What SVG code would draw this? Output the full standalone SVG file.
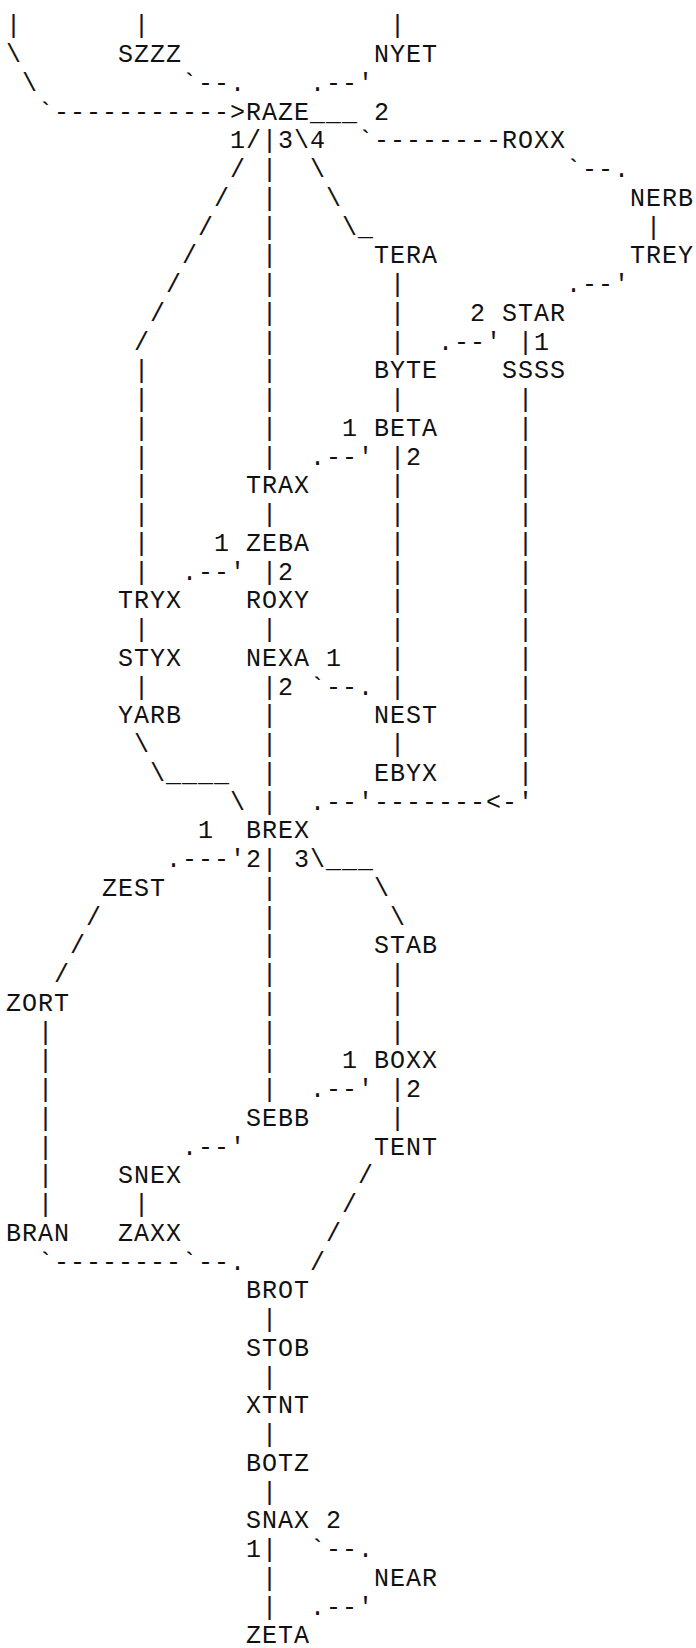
<svg xmlns="http://www.w3.org/2000/svg" width="696" height="1648" viewBox="0 0 696 1648">
<style>
text{font-family:"Liberation Mono","DejaVu Sans Mono",monospace;font-size:25px;letter-spacing:1px;fill:#111;white-space:pre}
</style>
<rect width="696" height="1648" fill="#fff"/>
<g id="connectors">
<text x="6" y="33.25">|</text><text x="134" y="33.25">|</text><text x="390" y="33.25">|</text>
<text x="6" y="62">\</text>
<text x="22" y="90.75">\</text><text x="182" y="90.75">`--.</text><text x="310" y="90.75">.--'</text>
<text x="38" y="119.5">`-----------&gt;</text><text x="310" y="119.5">___</text><text x="374" y="119.5">2</text>
<text x="230" y="148.25">1/|3\4</text><text x="358" y="148.25">`--------</text>
<text x="230" y="177">/</text><text x="262" y="177">|</text><text x="310" y="177">\</text><text x="566" y="177">`--.</text>
<text x="214" y="205.75">/</text><text x="262" y="205.75">|</text><text x="326" y="205.75">\</text>
<text x="198" y="234.5">/</text><text x="262" y="234.5">|</text><text x="342" y="234.5">\_</text><text x="646" y="234.5">|</text>
<text x="182" y="263.25">/</text><text x="262" y="263.25">|</text>
<text x="166" y="292">/</text><text x="262" y="292">|</text><text x="390" y="292">|</text><text x="566" y="292">.--'</text>
<text x="150" y="320.75">/</text><text x="262" y="320.75">|</text><text x="390" y="320.75">|</text><text x="470" y="320.75">2</text>
<text x="134" y="349.5">/</text><text x="262" y="349.5">|</text><text x="390" y="349.5">|</text><text x="438" y="349.5">.--'</text><text x="518" y="349.5">|1</text>
<text x="134" y="378.25">|</text><text x="262" y="378.25">|</text>
<text x="134" y="407">|</text><text x="262" y="407">|</text><text x="390" y="407">|</text><text x="518" y="407">|</text>
<text x="134" y="435.75">|</text><text x="262" y="435.75">|</text><text x="342" y="435.75">1</text><text x="518" y="435.75">|</text>
<text x="134" y="464.5">|</text><text x="262" y="464.5">|</text><text x="310" y="464.5">.--'</text><text x="390" y="464.5">|2</text><text x="518" y="464.5">|</text>
<text x="134" y="493.25">|</text><text x="390" y="493.25">|</text><text x="518" y="493.25">|</text>
<text x="134" y="522">|</text><text x="262" y="522">|</text><text x="390" y="522">|</text><text x="518" y="522">|</text>
<text x="134" y="550.75">|</text><text x="214" y="550.75">1</text><text x="390" y="550.75">|</text><text x="518" y="550.75">|</text>
<text x="134" y="579.5">|</text><text x="182" y="579.5">.--'</text><text x="262" y="579.5">|2</text><text x="390" y="579.5">|</text><text x="518" y="579.5">|</text>
<text x="390" y="608.25">|</text><text x="518" y="608.25">|</text>
<text x="134" y="637">|</text><text x="262" y="637">|</text><text x="390" y="637">|</text><text x="518" y="637">|</text>
<text x="326" y="665.75">1</text><text x="390" y="665.75">|</text><text x="518" y="665.75">|</text>
<text x="134" y="694.5">|</text><text x="262" y="694.5">|2</text><text x="310" y="694.5">`--.</text><text x="390" y="694.5">|</text><text x="518" y="694.5">|</text>
<text x="262" y="723.25">|</text><text x="518" y="723.25">|</text>
<text x="134" y="752">\</text><text x="262" y="752">|</text><text x="390" y="752">|</text><text x="518" y="752">|</text>
<text x="150" y="780.75">\____</text><text x="262" y="780.75">|</text><text x="518" y="780.75">|</text>
<text x="230" y="809.5">\</text><text x="262" y="809.5">|</text><text x="310" y="809.5">.--'-------&lt;-'</text>
<text x="198" y="838.25">1</text>
<text x="166" y="867">.---'2|</text><text x="294" y="867">3\___</text>
<text x="262" y="895.75">|</text><text x="374" y="895.75">\</text>
<text x="86" y="924.5">/</text><text x="262" y="924.5">|</text><text x="390" y="924.5">\</text>
<text x="70" y="953.25">/</text><text x="262" y="953.25">|</text>
<text x="54" y="982">/</text><text x="262" y="982">|</text><text x="390" y="982">|</text>
<text x="262" y="1010.75">|</text><text x="390" y="1010.75">|</text>
<text x="38" y="1039.5">|</text><text x="262" y="1039.5">|</text><text x="390" y="1039.5">|</text>
<text x="38" y="1068.25">|</text><text x="262" y="1068.25">|</text><text x="342" y="1068.25">1</text>
<text x="38" y="1097">|</text><text x="262" y="1097">|</text><text x="310" y="1097">.--'</text><text x="390" y="1097">|2</text>
<text x="38" y="1125.75">|</text><text x="390" y="1125.75">|</text>
<text x="38" y="1154.5">|</text><text x="182" y="1154.5">.--'</text>
<text x="38" y="1183.25">|</text><text x="358" y="1183.25">/</text>
<text x="38" y="1212">|</text><text x="134" y="1212">|</text><text x="342" y="1212">/</text>
<text x="326" y="1240.75">/</text>
<text x="38" y="1269.5">`--------`--.</text><text x="310" y="1269.5">/</text>
<text x="262" y="1327">|</text>
<text x="262" y="1384.5">|</text>
<text x="262" y="1442">|</text>
<text x="262" y="1499.5">|</text>
<text x="326" y="1528.25">2</text>
<text x="246" y="1557">1</text><text x="262" y="1557">|</text><text x="310" y="1557">`--.</text>
<text x="262" y="1585.75">|</text>
<text x="262" y="1614.5">|</text><text x="310" y="1614.5">.--'</text>
</g>
<g id="node-SZZZ"><text x="118" y="62">SZZZ</text></g>
<g id="node-NYET"><text x="374" y="62">NYET</text></g>
<g id="node-RAZE"><text x="246" y="119.5">RAZE</text></g>
<g id="node-ROXX"><text x="502" y="148.25">ROXX</text></g>
<g id="node-NERB"><text x="630" y="205.75">NERB</text></g>
<g id="node-TERA"><text x="374" y="263.25">TERA</text></g>
<g id="node-TREY"><text x="630" y="263.25">TREY</text></g>
<g id="node-STAR"><text x="502" y="320.75">STAR</text></g>
<g id="node-BYTE"><text x="374" y="378.25">BYTE</text></g>
<g id="node-SSSS"><text x="502" y="378.25">SSSS</text></g>
<g id="node-BETA"><text x="374" y="435.75">BETA</text></g>
<g id="node-TRAX"><text x="246" y="493.25">TRAX</text></g>
<g id="node-ZEBA"><text x="246" y="550.75">ZEBA</text></g>
<g id="node-TRYX"><text x="118" y="608.25">TRYX</text></g>
<g id="node-ROXY"><text x="246" y="608.25">ROXY</text></g>
<g id="node-STYX"><text x="118" y="665.75">STYX</text></g>
<g id="node-NEXA"><text x="246" y="665.75">NEXA</text></g>
<g id="node-YARB"><text x="118" y="723.25">YARB</text></g>
<g id="node-NEST"><text x="374" y="723.25">NEST</text></g>
<g id="node-EBYX"><text x="374" y="780.75">EBYX</text></g>
<g id="node-BREX"><text x="246" y="838.25">BREX</text></g>
<g id="node-ZEST"><text x="102" y="895.75">ZEST</text></g>
<g id="node-STAB"><text x="374" y="953.25">STAB</text></g>
<g id="node-ZORT"><text x="6" y="1010.75">ZORT</text></g>
<g id="node-BOXX"><text x="374" y="1068.25">BOXX</text></g>
<g id="node-SEBB"><text x="246" y="1125.75">SEBB</text></g>
<g id="node-TENT"><text x="374" y="1154.5">TENT</text></g>
<g id="node-SNEX"><text x="118" y="1183.25">SNEX</text></g>
<g id="node-BRAN"><text x="6" y="1240.75">BRAN</text></g>
<g id="node-ZAXX"><text x="118" y="1240.75">ZAXX</text></g>
<g id="node-BROT"><text x="246" y="1298.25">BROT</text></g>
<g id="node-STOB"><text x="246" y="1355.75">STOB</text></g>
<g id="node-XTNT"><text x="246" y="1413.25">XTNT</text></g>
<g id="node-BOTZ"><text x="246" y="1470.75">BOTZ</text></g>
<g id="node-SNAX"><text x="246" y="1528.25">SNAX</text></g>
<g id="node-NEAR"><text x="374" y="1585.75">NEAR</text></g>
<g id="node-ZETA"><text x="246" y="1643.25">ZETA</text></g>
</svg>
